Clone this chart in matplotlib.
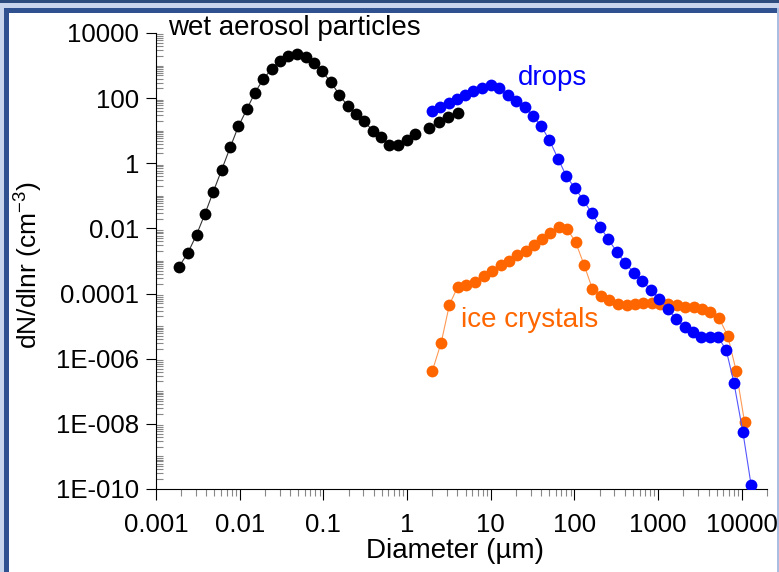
import matplotlib
matplotlib.use("Agg")
import matplotlib.pyplot as plt
from matplotlib.patches import Rectangle
from matplotlib.ticker import FixedLocator, FixedFormatter, LogLocator, NullFormatter

plt.rcParams['font.family'] = ['Liberation Sans', 'DejaVu Sans']
plt.rcParams['mathtext.fontset'] = 'custom'
plt.rcParams['mathtext.rm'] = 'Liberation Sans'
plt.rcParams['mathtext.it'] = 'Liberation Sans:italic'

# ---- data ----
aerosol_d1 = [0.00188, 0.00239, 0.00305, 0.00383, 0.00485, 0.00611, 0.00773, 0.00966,
              0.0122, 0.0152, 0.0191, 0.0240, 0.0305, 0.0383, 0.0488, 0.0612, 0.0773,
              0.0975, 0.123, 0.155, 0.196, 0.245, 0.306, 0.388, 0.491, 0.615, 0.783,
              0.989, 1.25]
aerosol_n1 = [6.7e-4, 1.72e-3, 6.4e-3, 0.0273, 0.136, 0.644, 3.16, 13.7, 46, 147, 379,
              785, 1412, 1995, 2266, 1872, 1242, 658, 304, 129, 56, 32, 19.6, 10.1,
              6.19, 3.77, 3.77, 5.08, 8.09]
aerosol_d2 = [1.85, 2.44, 3.10, 4.04]
aerosol_n2 = [11.9, 18.9, 26.9, 34.3]

drops_d = [1.97, 2.46, 3.13, 3.93, 4.95, 6.22, 7.82, 9.95, 12.6, 15.9, 20.2, 25.4, 31.6,
           40.0, 50.1, 64.3, 80.1, 101, 127, 160, 202, 254, 322, 404, 512, 647, 822,
           1025, 1296, 1641, 2070, 2600, 3270, 4160, 5230, 6510, 8050, 10300, 12900]
drops_n = [40.3, 54.6, 72.4, 94.1, 125, 162, 209, 259, 198, 125, 81.7, 53.5, 29.3, 14.0,
           5.19, 1.32, 0.401, 0.174, 0.0762, 0.0302, 0.01146, 4.63e-3, 1.89e-3, 8.67e-4,
           4.43e-4, 2.43e-4, 1.29e-4, 7.05e-5, 3.43e-5, 1.66e-5, 9.2e-6, 6.75e-6,
           4.54e-6, 4.54e-6, 4.54e-6, 1.85e-6, 1.83e-7, 5.6e-9, 1.35e-10]

ice_d = [2.01, 2.56, 3.21, 4.04, 5.09, 6.45, 8.22, 10.4, 13.1, 16.5, 20.7, 26.1, 32.8,
         40.9, 51.5, 65.3, 82.4, 103.5, 130, 164, 208, 262, 332, 419, 526, 662, 834,
         1048, 1318, 1660, 2104, 2654, 3336, 4190, 5360, 6790, 8550, 10800]
ice_n = [4.34e-7, 3.14e-6, 4.61e-5, 1.63e-4, 1.83e-4, 2.34e-4, 3.46e-4, 4.93e-4, 7.38e-4,
         1.01e-3, 1.48e-3, 2.06e-3, 3.10e-3, 4.63e-3, 7.39e-3, 0.0108, 9.4e-3, 3.75e-3,
         7.8e-4, 1.38e-4, 8.6e-5, 6.2e-5, 4.89e-5, 4.45e-5, 4.89e-5, 5.13e-5, 5.13e-5,
         4.89e-5, 4.71e-5, 4.45e-5, 3.95e-5, 3.87e-5, 3.31e-5, 2.77e-5, 1.74e-5,
         5.05e-6, 4.28e-7, 1.11e-8]

x_ticks = [1e-3, 1e-2, 1e-1, 1, 10, 100, 1000, 10000]
x_tick_labels = ['0.001', '0.01', '0.1', '1', '10', '100', '1000', '10000']
y_ticks = [1e4, 1e2, 1, 1e-2, 1e-4, 1e-6, 1e-8, 1e-10]
y_tick_labels = ['10000', '100', '1', '0.01', '0.0001', '1E-006', '1E-008', '1E-010']

BLACK = '#000000'
BLUE = '#0000FF'
ORANGE = '#FF6600'

W, H = 779, 572
fig = plt.figure(figsize=(W / 100, H / 100), dpi=100)
fig.patch.set_facecolor('#C8D5EC')

# slide-like frame
def px_rect(x0, y0, x1, y1, color):
    fig.patches.append(Rectangle((x0 / W, 1 - y1 / H), (x1 - x0) / W, (y1 - y0) / H,
                                 transform=fig.transFigure, facecolor=color,
                                 edgecolor='none', zorder=-10))

px_rect(0, 0, W, 3, '#2C4C7E')
px_rect(4, 8, 777, H, '#2F5190')
px_rect(9, 13, 777, H, '#FFFFFF')
px_rect(777, 8, 779, H, '#A9BEE0')

ax = fig.add_axes([156 / W, 1 - 489 / H, (767 - 156) / W, (489 - 33) / H])
ax.set_facecolor('none')
ax.set_zorder(5)

MS = 8.5
ax.plot(aerosol_d1, aerosol_n1, '-o', color='#333333', mfc=BLACK, mec=BLACK, ms=MS,
        lw=0.8, markeredgewidth=0, zorder=3)
ax.plot(aerosol_d2, aerosol_n2, '-o', color='#333333', mfc=BLACK, mec=BLACK, ms=MS,
        lw=0.8, markeredgewidth=0, zorder=3)
ax.plot(ice_d, ice_n, '-o', color='#FF9955', mfc=ORANGE, mec=ORANGE, ms=MS,
        lw=0.8, markeredgewidth=0, zorder=4)
ax.plot(drops_d, drops_n, '-o', color='#5555FF', mfc=BLUE, mec=BLUE, ms=MS,
        lw=0.8, markeredgewidth=0, zorder=5)

ax.set_xscale('log')
ax.set_yscale('log')
ax.set_xlim(1e-3, 2e4)
ax.set_ylim(1e-10, 1e4)

for s in ('top', 'right'):
    ax.spines[s].set_visible(False)
for s in ('left', 'bottom'):
    ax.spines[s].set_color('#000000')
    ax.spines[s].set_linewidth(0.8)

ax.xaxis.set_major_locator(FixedLocator(x_ticks))
ax.xaxis.set_major_formatter(FixedFormatter(x_tick_labels))
ax.xaxis.set_minor_locator(LogLocator(base=10, subs=range(2, 10), numticks=30))
ax.xaxis.set_minor_formatter(NullFormatter())

ax.yaxis.set_major_locator(FixedLocator(y_ticks))
ax.yaxis.set_major_formatter(FixedFormatter(y_tick_labels))
ax.yaxis.set_minor_locator(LogLocator(base=10, subs=range(1, 10), numticks=40))
ax.yaxis.set_minor_formatter(NullFormatter())

TFS = 18.5
ax.tick_params(axis='x', which='major', direction='out', length=8, width=0.8,
               color='black', labelsize=TFS, pad=9)
ax.tick_params(axis='x', which='minor', direction='out', length=5, width=0.8,
               color='#888888')
ax.tick_params(axis='y', which='major', direction='out', length=7, width=0.8,
               color='black', labelsize=TFS, pad=5)
ax.tick_params(axis='y', which='minor', direction='in', length=5, width=0.8,
               color='#888888')

ax.set_xlabel('Diameter (µm)', fontsize=20)
ax.xaxis.set_label_coords(0.49, -0.108)
ax.set_ylabel('dN/dlnr (cm$^{-3}$)', fontsize=19)
ax.yaxis.set_label_coords(-0.182, 0.49)

fig.text(168 / W, 1 - 28 / H, 'wet aerosol particles', fontsize=20, color='black',
         ha='left', va='center')
fig.text(518 / W, 1 - 78 / H, 'drops', fontsize=20, color=BLUE, ha='left', va='center')
fig.text(461 / W, 1 - 320 / H, 'ice crystals', fontsize=20, color=ORANGE,
         ha='left', va='center')

fig.savefig('out.png', dpi=100, facecolor=fig.get_facecolor())
